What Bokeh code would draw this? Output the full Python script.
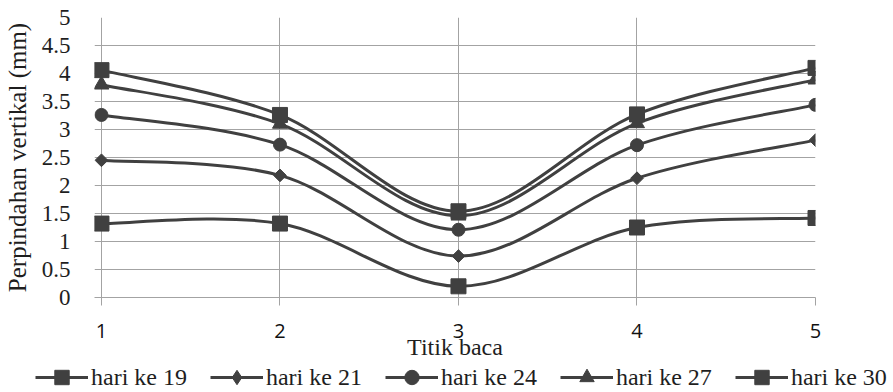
import numpy as np
from bokeh.plotting import figure
from bokeh.layouts import column, row
from bokeh.models import (ColumnDataSource, FixedTicker, NumeralTickFormatter,
                          Range1d, Legend, LegendItem)
from bokeh.embed import file_html
from bokeh.resources import INLINE

# ---------------- data ----------------
titik = [1, 2, 3, 4, 5]
hari_19 = [1.32, 1.32, 0.20, 1.25, 1.42]
hari_21 = [2.45, 2.18, 0.74, 2.13, 2.81]
hari_24 = [3.26, 2.73, 1.21, 2.72, 3.44]
hari_27 = [3.80, 3.10, 1.46, 3.11, 3.89]
hari_30 = [4.06, 3.26, 1.54, 3.27, 4.10]
series_names = ["hari ke 19", "hari ke 21", "hari ke 24", "hari ke 27", "hari ke 30"]
y_ticks = [0, 0.5, 1, 1.5, 2, 2.5, 3, 3.5, 4, 4.5, 5]
x_ticks = [1, 2, 3, 4, 5]
x_title = "Titik baca"
y_title = "Perpindahan vertikal (mm)"

# ---------------- style ----------------
DARK = "#404040"
GRID = "#a3a3a3"
TEXT = "#1e1e1e"
SERIF = "Liberation Serif"

p = figure(width=893, height=362, output_backend="svg", toolbar_location=None,
           x_range=Range1d(0.961, 5.0), y_range=Range1d(0, 5.0),
           min_border_left=90, min_border_right=78, min_border_top=17,
           min_border_bottom=65, outline_line_color=None,
           background_fill_color="white", border_fill_color="white")


def smooth_segments(xs, ys):
    x = np.asarray(xs, dtype=float)
    y = np.asarray(ys, dtype=float)
    n = len(x)
    xp = np.concatenate([[x[0]], x, [x[-1]]])
    yp = np.concatenate([[y[0]], y, [y[-1]]])
    return dict(
        x0=x[:-1], y0=y[:-1], x1=x[1:], y1=y[1:],
        cx0=x[:-1] + (xp[2:n + 1] - xp[0:n - 1]) / 6.0,
        cy0=y[:-1] + (yp[2:n + 1] - yp[0:n - 1]) / 6.0,
        cx1=x[1:] - (xp[3:n + 2] - xp[1:n]) / 6.0,
        cy1=y[1:] - (yp[3:n + 2] - yp[1:n]) / 6.0,
    )


series = [hari_19, hari_21, hari_24, hari_27, hari_30]
markers = [("square", 15, 0.0), ("square", 9, np.pi / 4), ("circle", 13, 0.0),
           ("triangle", 15, 0.0), ("square", 15, 0.0)]
legend_markers = ["square", "diamond", "circle", "triangle", "square"]

for vals, (mk, sz, ang) in zip(series, markers):
    src = ColumnDataSource(smooth_segments(titik, vals))
    p.bezier(x0="x0", y0="y0", x1="x1", y1="y1", cx0="cx0", cy0="cy0",
             cx1="cx1", cy1="cy1", source=src, line_color=DARK, line_width=3)
    p.scatter(x=titik, y=vals, marker=mk, size=sz, angle=ang,
              fill_color=DARK, line_color=DARK)

# ---------------- axes ----------------
xa = p.xaxis[0]
xa.ticker = FixedTicker(ticks=x_ticks)
xa.axis_line_color = GRID
xa.axis_line_width = 1
xa.major_tick_line_color = GRID
xa.major_tick_out = 8
xa.major_tick_in = 0
xa.minor_tick_line_color = None
xa.major_label_text_font = "Open Sans"
xa.major_label_text_font_size = "20px"
xa.major_label_text_color = "#111111"
xa.major_label_standoff = 18
xa.axis_label = x_title
xa.axis_label_text_font = SERIF
xa.axis_label_text_font_size = "24px"
xa.axis_label_text_font_style = "normal"
xa.axis_label_text_color = TEXT
xa.axis_label_standoff = -7

ya = p.yaxis[0]
ya.ticker = FixedTicker(ticks=y_ticks)
ya.formatter = NumeralTickFormatter(format="0.[0]")
ya.axis_line_color = None
ya.major_tick_line_color = None
ya.minor_tick_line_color = None
ya.major_label_text_font = SERIF
ya.major_label_text_font_size = "23px"
ya.major_label_text_color = TEXT
ya.major_label_standoff = 18
ya.axis_label = y_title
ya.axis_label_text_font = SERIF
ya.axis_label_text_font_size = "25px"
ya.axis_label_text_font_style = "normal"
ya.axis_label_text_color = TEXT
ya.axis_label_standoff = 8

p.xgrid[0].ticker = FixedTicker(ticks=x_ticks)
p.xgrid[0].grid_line_color = GRID
p.ygrid[0].grid_line_color = GRID
p.xgrid[0].grid_line_width = 1
p.ygrid[0].grid_line_width = 1

# ---------------- legend strip ----------------
lg = figure(width=893, height=30, output_backend="svg", toolbar_location=None,
            x_range=Range1d(0, 1), y_range=Range1d(0, 1),
            min_border=0, min_border_left=0, min_border_right=0,
            min_border_top=0, min_border_bottom=0, outline_line_color=None,
            background_fill_color="white", border_fill_color="white")
lg.axis.visible = False
lg.grid.visible = False

items = []
for name, lmk in zip(series_names, legend_markers):
    ln = lg.line(x=[np.nan], y=[np.nan], line_color=DARK, line_width=3)
    sc = lg.scatter(x=[np.nan], y=[np.nan], marker=lmk, fill_color=DARK, line_color=DARK)
    items.append(LegendItem(label=name, renderers=[ln, sc]))

legend = Legend(items=items, orientation="horizontal", location=(35, -3),
                glyph_width=53, glyph_height=36, label_standoff=3, spacing=23,
                padding=0, margin=0, border_line_color=None,
                background_fill_alpha=0, label_text_font=SERIF,
                label_text_font_size="24px", label_text_color=TEXT,
                click_policy="none")
lg.add_layout(legend)

layout = column(p, row(lg, spacing=0), spacing=0)
open("out.html", "w").write(file_html(layout, INLINE))
